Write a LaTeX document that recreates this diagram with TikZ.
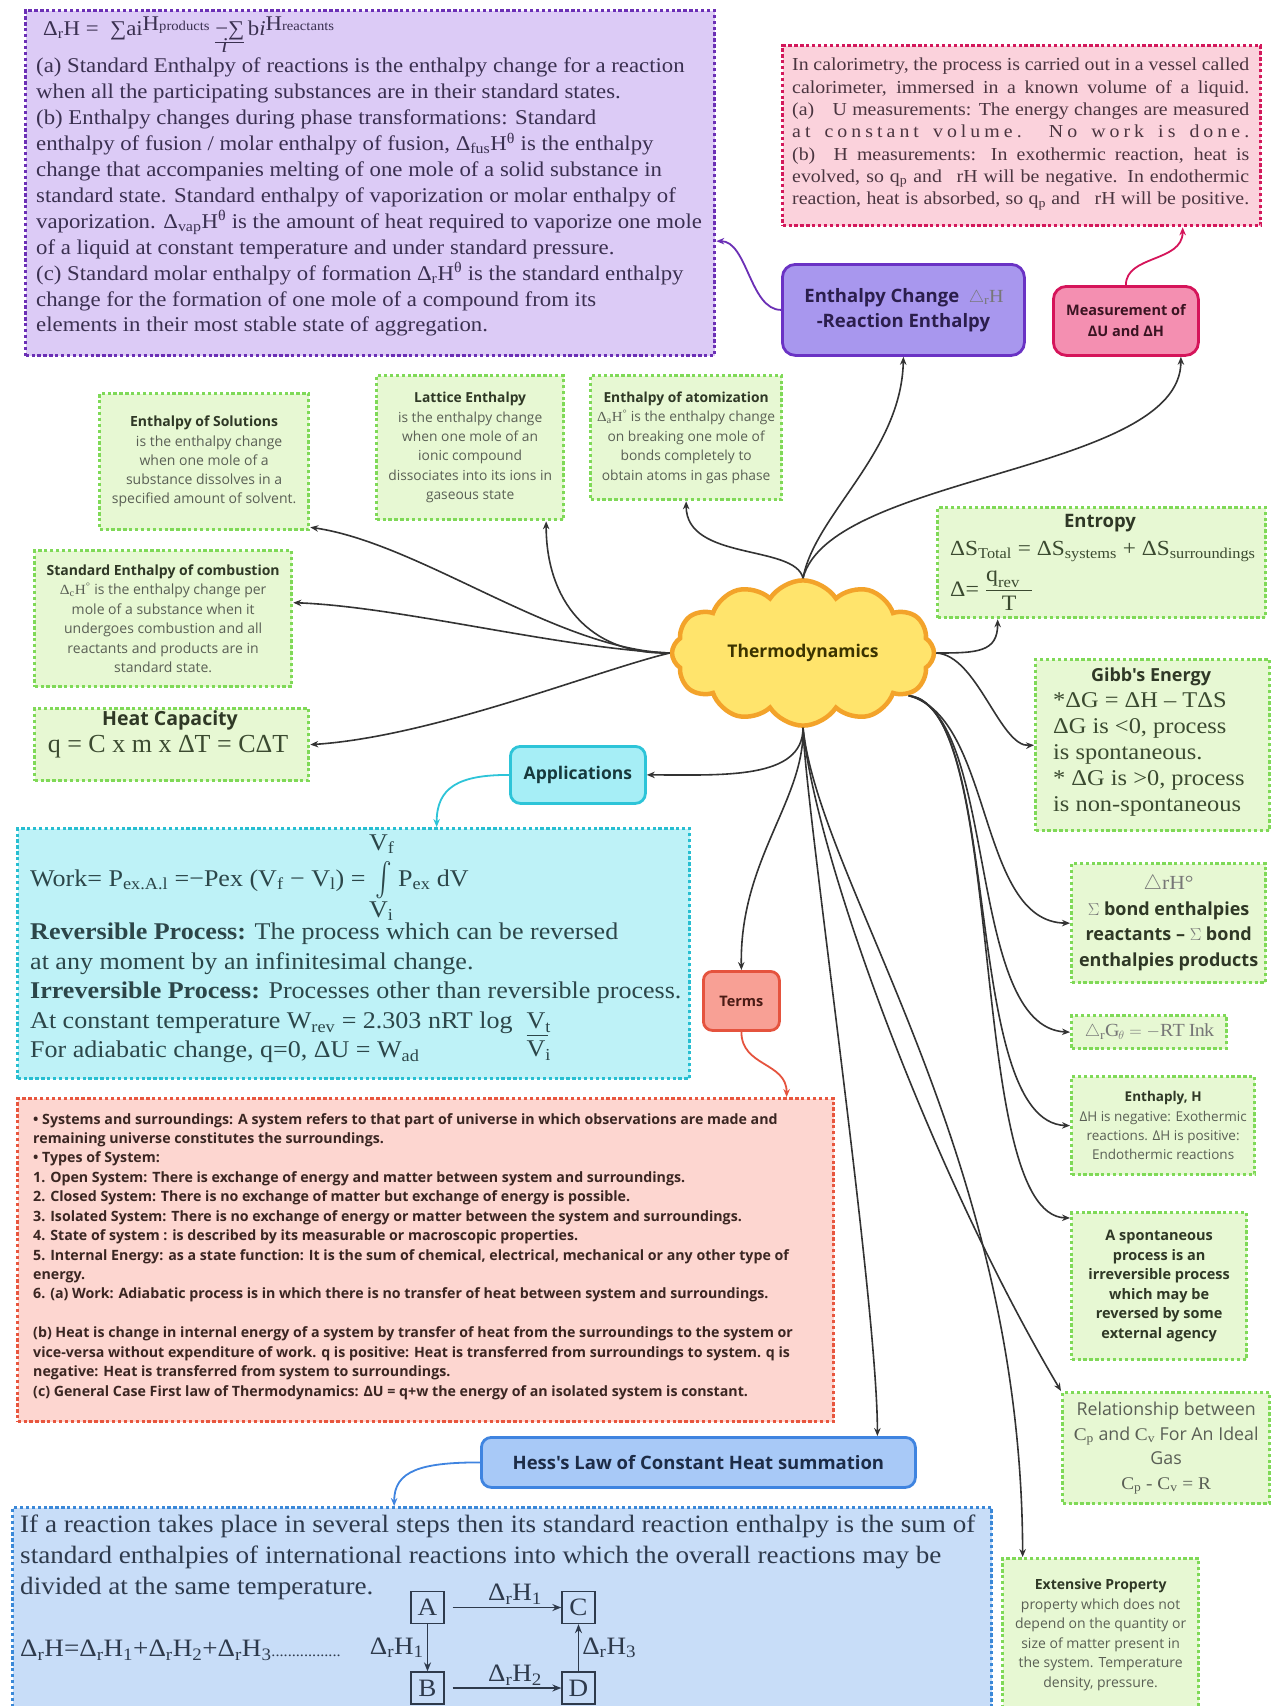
\documentclass[tikz,border=0pt]{standalone}
\usepackage{amsmath}
\usepackage{fontspec}
\setmainfont{Liberation Serif}[FakeStretch=1.085]
\newfontfamily\nserif{Liberation Serif}
\newfontfamily\osans{Open Sans}
\usetikzlibrary{shapes.symbols,arrows.meta}

\newcommand\fs[2]{\fontsize{#1}{#2}\selectfont}
\newcommand\fullline[1]{\makebox[457pt][s]{#1}}

% palette
\definecolor{pFill}{HTML}{DCCBF6}\definecolor{pLine}{HTML}{6B2FB5}\definecolor{pText}{HTML}{3A3050}
\definecolor{mFill}{HTML}{FBD2DC}\definecolor{mLine}{HTML}{D3185B}\definecolor{mText}{HTML}{4A3540}
\definecolor{ecFill}{HTML}{A897EE}\definecolor{ecLine}{HTML}{6A32C4}\definecolor{ecText}{HTML}{2B1E4C}
\definecolor{muFill}{HTML}{F48FB1}\definecolor{muLine}{HTML}{D5145A}\definecolor{muText}{HTML}{3A1422}
\definecolor{gFill}{HTML}{E7F8D3}\definecolor{gLine}{HTML}{7FD957}\definecolor{gTitle}{HTML}{2F3826}
\definecolor{gText}{HTML}{5A5F55}\definecolor{gSerif}{HTML}{3B4A30}
\definecolor{cFill}{HTML}{FFE46C}\definecolor{cLine}{HTML}{F3A32A}\definecolor{cText}{HTML}{3B3300}
\definecolor{aFill}{HTML}{A6EEF6}\definecolor{aLine}{HTML}{2DC4D8}\definecolor{aText}{HTML}{17393D}
\definecolor{wFill}{HTML}{BEF2F7}\definecolor{wLine}{HTML}{27BED1}\definecolor{wText}{HTML}{2C4649}
\definecolor{tFill}{HTML}{F8A095}\definecolor{tLine}{HTML}{E5533E}\definecolor{tText}{HTML}{4A1B15}
\definecolor{tbFill}{HTML}{FDD6D0}\definecolor{tbLine}{HTML}{E8563E}\definecolor{tbText}{HTML}{3A2622}
\definecolor{hFill}{HTML}{A8C9F7}\definecolor{hLine}{HTML}{3F84E0}\definecolor{hText}{HTML}{1D2C47}
\definecolor{hbFill}{HTML}{C8DDF8}\definecolor{hbLine}{HTML}{3A88D8}\definecolor{hbText}{HTML}{2E3A4C}
\definecolor{connC}{HTML}{333333}\definecolor{symC}{HTML}{777777}

\begin{document}
\begin{tikzpicture}[x=1pt,y=-1pt,
  dotbox/.style={draw=#1, line width=3.3pt, dash pattern=on 3.3pt off 2.6pt, inner sep=0pt, anchor=north west},
  greenbox/.style={dotbox=gLine, fill=gFill},
  solidbox/.style={draw=#1, line width=2.8pt, rounded corners=13pt, inner sep=3pt, anchor=north west},
  edgeline/.style={draw=connC, line width=1.6pt, -{Stealth[length=8pt,width=6.5pt]}},
  tintline/.style={draw=#1, line width=1.8pt, -{Stealth[length=8pt,width=6.5pt]}},
  hbbox/.style={draw=hbText, line width=1.3pt, minimum width=33pt, minimum height=32pt, inner sep=0pt, font=\fs{25}{25}, text=hbText},
  hbarrow/.style={draw=hbText, line width=1.6pt, -{Stealth[length=9pt,width=7pt]}},
  hblabel/.style={font=\fs{25}{25}, text=hbText, inner sep=1pt},
]
\useasboundingbox (0,0) rectangle (1274,1706);
\fill[white] (0,0) rectangle (1274,1706);

% ---------- reaction enthalpy block ----------
\node[dotbox=pLine, fill=pFill, minimum width=689pt, minimum height=345pt] (P) at (24,9) {};
\node[anchor=base west, inner sep=0pt, text=pText, font=\fs{21}{26}] (Pf) at (43,35)
  {Δ\textsubscript{r}H = \ ∑ai\raisebox{5pt}{H{\fs{13.5}{14}products}} \smash{\makebox[0pt][l]{\raisebox{-17pt}{\hspace{6pt}\textit{i}}}}\underline{−∑}\,b\textit{i}\raisebox{5pt}{H{\fs{13.5}{14}reactants}}};
\node[anchor=north west, align=left, inner sep=0pt, text=pText, font=\fs{21}{25.9}] (Pt) at (36,58)
  {(a) Standard Enthalpy of reactions is the enthalpy change for a reaction\\
   when all the participating substances are in their standard states.\\
   (b) Enthalpy changes during phase transformations: Standard\\
   enthalpy of fusion / molar enthalpy of fusion, Δ\textsubscript{fus}H\textsuperscript{θ} is the enthalpy\\
   change that accompanies melting of one mole of a solid substance in\\
   standard state. Standard enthalpy of vaporization or molar enthalpy of\\
   vaporization. Δ\textsubscript{vap}H\textsuperscript{θ} is the amount of heat required to vaporize one mole\\
   of a liquid at constant temperature and under standard pressure.\\
   (c) Standard molar enthalpy of formation Δ\textsubscript{r}H\textsuperscript{θ} is the standard enthalpy\\
   change for the formation of one mole of a compound from its\\
   elements in their most stable state of aggregation.};

% ---------- calorimetry block ----------
\node[dotbox=mLine, fill=mFill, minimum width=478pt, minimum height=180pt] (M) at (781,44) {};
\node[anchor=north west, align=left, inner sep=0pt, text=mText, font=\fs{18.3}{22.3}] (Mt) at (792,58)
  {\fullline{In calorimetry, the process is carried out in a vessel called}\\
   \fullline{calorimeter, immersed in a known volume of a liquid.}\\
   \fullline{(a)\hspace{1em}U measurements: The energy changes are measured}\\
   \fullline{\addfontfeature{LetterSpace=22}at constant volume. No work is done.}\\
   \fullline{(b)\hspace{1em}H measurements: In exothermic reaction, heat is}\\
   \fullline{evolved, so q\textsubscript{p} and\hspace{0.8em}rH will be negative. In endothermic}\\
   \fullline{reaction, heat is absorbed, so q\textsubscript{p} and\hspace{0.8em}rH will be positive.}};

% ---------- coloured topic nodes ----------
\node[solidbox=ecLine, fill=ecFill, minimum width=242pt, minimum height=91pt, align=center,
      font=\osans\bfseries\fs{18.5}{25}, text=ecText] (EC) at (781,263)
  {Enthalpy Change \ {\color{symC}$\triangle_{\mathrm{r}}\mathrm{H}$}\\ -Reaction Enthalpy};
\node[solidbox=muLine, fill=muFill, minimum width=145pt, minimum height=69pt, align=center,
      font=\osans\bfseries\fs{14.5}{21}, text=muText] (MU) at (1052,285) {Measurement of\\ΔU and ΔH};

% ---------- green boxes, left ----------
\node[greenbox, minimum width=209pt, minimum height=136pt, align=center, font=\osans\fs{14}{19.3}, text=gText] (ES) at (98,392)
  {{\bfseries\color{gTitle}Enthalpy of Solutions}\\\hspace*{10pt}is the enthalpy change\\when one mole of a\\substance dissolves in a\\specified amount of solvent.};
\node[greenbox, minimum width=187pt, minimum height=144pt, align=center, font=\osans\fs{13.8}{19.3}, text=gText] (LE) at (375,374)
  {{\bfseries\color{gTitle}Lattice Enthalpy}\\is the enthalpy change\\when one mole of an\\ionic compound\\dissociates into its ions in\\gaseous state};
\node[greenbox, minimum width=191pt, minimum height=124pt, align=center, font=\osans\fs{13.8}{19.5}, text=gText] (EA) at (589,374)
  {{\bfseries\color{gTitle}Enthalpy of atomization}\\{\rmfamily Δ\textsubscript{a}H\textsuperscript{°}} is the enthalpy change\\on breaking one mole of\\bonds completely to\\obtain atoms in gas phase};
\node[greenbox, minimum width=257pt, minimum height=136pt, align=center, font=\osans\fs{14}{19.4}, text=gText] (SC) at (33,549)
  {{\bfseries\color{gTitle}Standard Enthalpy of combustion}\\{\rmfamily Δ\textsubscript{c}H\textsuperscript{°}} is the enthalpy change per\\mole of a substance when it\\undergoes combustion and all\\reactants and products are in\\standard state.};
\node[greenbox, minimum width=274pt, minimum height=72pt] (HC) at (33,707) {};
\node[font=\osans\bfseries\fs{19.5}{20}, text=gTitle, inner sep=0pt] (HCt) at (170,720) {Heat Capacity};
\node[font=\nserif\fs{26}{26}, text=gSerif, inner sep=0pt] (HCf) at (168,747) {q = C x m x ΔT = CΔT};

% ---------- green boxes, right ----------
\node[greenbox, minimum width=328pt, minimum height=110pt] (EN) at (936,506) {};
\node[font=\osans\bfseries\fs{18.5}{20}, text=gTitle, inner sep=0pt] (ENt) at (1100,523) {Entropy};
\node[anchor=base west, inner sep=0pt, font=\fs{21.5}{24}, text=gSerif] (ENf) at (950,555)
  {ΔS\textsubscript{Total} = ΔS\textsubscript{systems} + ΔS\textsubscript{surroundings}};
\node[anchor=base west, inner sep=0pt, font=\fs{22}{24}, text=gSerif] (ENg) at (950,596)
  {Δ= $\dfrac{\text{q}_{\text{rev}}\ \ }{\text{T}}$};

\node[greenbox, minimum width=234pt, minimum height=171pt] (GE) at (1034,658) {};
\node[font=\osans\bfseries\fs{18}{20}, text=gTitle, inner sep=0pt] (GEt) at (1151,677) {Gibb's Energy};
\node[anchor=north west, align=left, inner sep=0pt, font=\fs{22.5}{26}, text=gSerif] (GEb) at (1053,692)
  {*ΔG = ΔH – TΔS\\ΔG is <0, process\\is spontaneous.\\* ΔG is >0, process\\is non-spontaneous};

\node[greenbox, minimum width=194pt, minimum height=119pt, align=center, font=\osans\bfseries\fs{18}{25.5}, text=gTitle] (BE) at (1070,862)
  {{\rmfamily\mdseries\fs{20}{25.5}\color{symC}$\triangle$rH°}\\{\color{symC}$\Sigma$} bond enthalpies\\reactants – {\color{symC}$\Sigma$} bond\\enthalpies products};
\node[greenbox, minimum width=155pt, minimum height=33pt, font=\fs{18.5}{20}, text=symC] (RG) at (1070,1014)
  {$\triangle_{\mathrm{r}}\mathrm{G}_\theta = -\mathrm{RT\ Ink}$};
\node[greenbox, minimum width=183pt, minimum height=98pt, align=center, font=\osans\fs{13.5}{19.2}, text=gText] (EH) at (1070,1075)
  {{\bfseries\color{gTitle}Enthaply, H}\\ΔH is negative: Exothermic\\reactions. ΔH is positive:\\Endothermic reactions};
\node[greenbox, minimum width=175pt, minimum height=147pt, align=center, font=\osans\bfseries\fs{14.5}{19.5}, text=gTitle] (SP) at (1070,1211)
  {A spontaneous\\process is an\\irreversible process\\which may be\\reversed by some\\external agency};
\node[greenbox, minimum width=207pt, minimum height=111pt, align=center, font=\osans\fs{17.8}{24.5}, text=gText] (RL) at (1061,1391)
  {Relationship between\\{\rmfamily C\textsubscript{p}} and {\rmfamily C\textsubscript{v}} For An Ideal\\Gas\\{\rmfamily C\textsubscript{p} - C\textsubscript{v} = R}};
\node[greenbox, minimum width=196pt, minimum height=152pt, align=center, font=\osans\fs{14}{19.5}, text=gText] (EX) at (1001,1557)
  {{\bfseries\color{gTitle}Extensive Property}\\property which does not\\depend on the quantity or\\size of matter present in\\the system. Temperature\\density, pressure.};

% ---------- centre ----------
\node[cloud, cloud puffs=12, cloud puff arc=115, aspect=1.9, draw=cLine, fill=cFill, line width=4.5pt,
      minimum width=262pt, minimum height=132pt, font=\osans\bfseries\fs{17.5}{20}, text=cText] (TH) at (803,653) {Thermodynamics};

% ---------- applications ----------
\node[solidbox=aLine, fill=aFill, minimum width=135pt, minimum height=57pt, rounded corners=10pt,
      font=\osans\bfseries\fs{17.5}{20}, text=aText] (AP) at (509,745) {Applications};
\node[dotbox=wLine, fill=wFill, minimum width=672pt, minimum height=250pt] (WB) at (16,827) {};
\node[anchor=base west, inner sep=0pt, font=\fs{24}{24}, text=wText] (WBf) at (30,886)
  {Work= P\textsubscript{ex.A.l} =−Pex (V\textsubscript{f} − V\textsubscript{l}) = \smash{\makebox[0pt][l]{\hspace{-3pt}\raisebox{36pt}{V\textsubscript{f}}}\makebox[0pt][l]{\hspace{-3pt}\raisebox{-31pt}{V\textsubscript{i}}}}\hspace{3pt}\raisebox{-3pt}{\scalebox{1}[1.35]{$\int$}}\ P\textsubscript{ex} dV};
\node[anchor=north west, align=left, inner sep=0pt, font=\fs{24}{29.5}, text=wText] (WBt) at (30,923)
  {\textbf{Reversible Process:} The process which can be reversed\\
   at any moment by an infinitesimal change.\\
   \textbf{Irreversible Process:} Processes other than reversible process.\\
   At constant temperature W\textsubscript{rev} = 2.303 nRT log\hspace{14pt}\smash{\makebox[0pt][l]{\raisebox{-28pt}{V\textsubscript{i}}}\makebox[0pt][l]{\rule[-8pt]{21pt}{1.3pt}}}V\textsubscript{t}\\
   For adiabatic change, q=0, ΔU = W\textsubscript{ad}};

% ---------- terms ----------
\node[solidbox=tLine, fill=tFill, minimum width=76pt, minimum height=59pt, rounded corners=9pt,
      font=\osans\bfseries\fs{14.5}{16}, text=tText] (TM) at (702,970) {Terms};
\node[dotbox=tbLine, fill=tbFill, minimum width=816pt, minimum height=323pt] (TB) at (16,1097) {};
\node[anchor=north west, align=left, inner sep=0pt, font=\osans\bfseries\fs{14.2}{19.43}, text=tbText] (TBt) at (33,1113)
  {• Systems and surroundings: A system refers to that part of universe in which observations are made and\\
   remaining universe constitutes the surroundings.\\
   • Types of System:\\
   1. Open System: There is exchange of energy and matter between system and surroundings.\\
   2. Closed System: There is no exchange of matter but exchange of energy is possible.\\
   3. Isolated System: There is no exchange of energy or matter between the system and surroundings.\\
   4. State of system : is described by its measurable or macroscopic properties.\\
   5. Internal Energy: as a state function: It is the sum of chemical, electrical, mechanical or any other type of\\
   energy.\\
   6. (a) Work: Adiabatic process is in which there is no transfer of heat between system and surroundings.\\[19.43pt]
   (b) Heat is change in internal energy of a system by transfer of heat from the surroundings to the system or\\
   vice-versa without expenditure of work. q is positive: Heat is transferred from surroundings to system. q is\\
   negative: Heat is transferred from system to surroundings.\\
   (c) General Case First law of Thermodynamics: ΔU = q+w the energy of an isolated system is constant.};

% ---------- Hess's law ----------
\node[solidbox=hLine, fill=hFill, minimum width=434pt, minimum height=50pt, rounded corners=10pt,
      font=\osans\bfseries\fs{18.5}{20}, text=hText] (HL) at (480,1436) {Hess's Law of Constant Heat summation};
\node[dotbox=hbLine, fill=hbFill, minimum width=979pt, minimum height=212pt] (HB) at (11,1506) {};
\node[anchor=north west, align=left, inner sep=0pt, font=\fs{25}{31}, text=hbText] (HBt) at (20,1515)
  {If a reaction takes place in several steps then its standard reaction enthalpy is the sum of\\
   standard enthalpies of international reactions into which the overall reactions may be\\
   divided at the same temperature.};
\node[anchor=west, inner sep=0pt, font=\fs{25}{25}, text=hbText] (HBeq) at (20,1650)
  {Δ\textsubscript{r}H=Δ\textsubscript{r}H\textsubscript{1}+Δ\textsubscript{r}H\textsubscript{2}+Δ\textsubscript{r}H\textsubscript{3}{\fs{15}{15}.................}};
\node[hbbox] (A) at (427.5,1607.5) {A};
\node[hbbox] (C) at (578.5,1607.5) {C};
\node[hbbox] (B) at (427.5,1688) {B};
\node[hbbox] (D) at (578.5,1688) {D};
\draw[hbarrow, shorten <=8pt] (A) -- node[hblabel, above=1pt, xshift=12pt] (lAC) {Δ\textsubscript{r}H\textsubscript{1}} (C);
\draw[hbarrow] (A) -- node[hblabel, left=2pt] (lAB) {Δ\textsubscript{r}H\textsubscript{1}} (B);
\draw[hbarrow, shorten <=8pt] (B) -- node[hblabel, above=1pt, xshift=12pt] (lBD) {Δ\textsubscript{r}H\textsubscript{2}} (D);
\draw[hbarrow] (D) -- node[hblabel, right=2pt] (lDC) {Δ\textsubscript{r}H\textsubscript{3}} (C);

% ---------- connectors from the centre ----------
\draw[edgeline] (TH.north) .. controls +(-8,-34) and +(0,60) .. (EA.south);
\draw[edgeline] (TH.north) .. controls +(12,-64) and +(-2,96) .. (EC.south);
\draw[edgeline] (TH.north) .. controls +(27,-104) and +(0,116) .. ([xshift=55pt]MU.south);

\draw[edgeline] (TH.west) .. controls +(-112,-3) and +(110,16) .. ([yshift=4pt]ES.south east);
\draw[edgeline] (TH.west) .. controls +(-82,2) and +(0,78) .. ([xshift=76pt]LE.south);
\draw[edgeline] (TH.west) .. controls +(-112,-5) and +(107,4) .. ([yshift=16pt]SC.east);
\draw[edgeline] (TH.west) .. controls +(-72,17) and +(123,-8) .. (HC.east);

\draw[edgeline] (TH.east) .. controls +(41,0) and +(0,33) .. ([xshift=-104pt]EN.south);
\draw[edgeline] (TH.east) .. controls +(41,2) and +(-34,2) .. (GE.west);

\draw[edgeline] (TH.-22) .. controls +(85,22) and +(-93,-1) .. (BE.west);
\draw[edgeline] (TH.-22) .. controls +(90,17) and +(-105,-5) .. (RG.west);
\draw[edgeline] (TH.-22) .. controls +(95,12) and +(-110,-4) .. (EH.west);
\draw[edgeline] (TH.-22) .. controls +(100,7) and +(-105,-3) .. ([yshift=-7pt]SP.north west);

\draw[edgeline] (TH.south) .. controls +(0,52) and +(76,0) .. (AP.east);
\draw[edgeline] (TH.south) .. controls +(2,72) and +(-2,-110) .. (TM.north);
\draw[edgeline] (TH.south) .. controls +(2,77) and +(0,-136) .. ([xshift=179pt]HL.north);
\draw[edgeline] (TH.south) .. controls +(12,127) and +(-131,-221) .. (RL.north west);
\draw[edgeline] (TH.south) .. controls +(17,157) and +(-1,-406) .. ([xshift=-78pt]EX.north);

% ---------- coloured connectors to the detail blocks ----------
\draw[tintline=pLine] (EC.west) .. controls +(-31,0) and +(31,0) .. ([yshift=-58pt]P.east);
\draw[tintline=muLine] (MU.north) .. controls +(0,-30) and +(0,35) .. ([xshift=161pt]M.south);
\draw[tintline=aLine] (AP.west) .. controls +(-50,0) and +(0,-40) .. ([xshift=83pt]WB.north);
\draw[tintline=tLine] (TM.south) .. controls +(0,35) and +(0,-35) .. ([xshift=361pt]TB.north);
\draw[tintline=hLine] (HL.west) .. controls +(-60,0) and +(0,-35) .. ([xshift=-108pt]HB.north);
\end{tikzpicture}
\end{document}
